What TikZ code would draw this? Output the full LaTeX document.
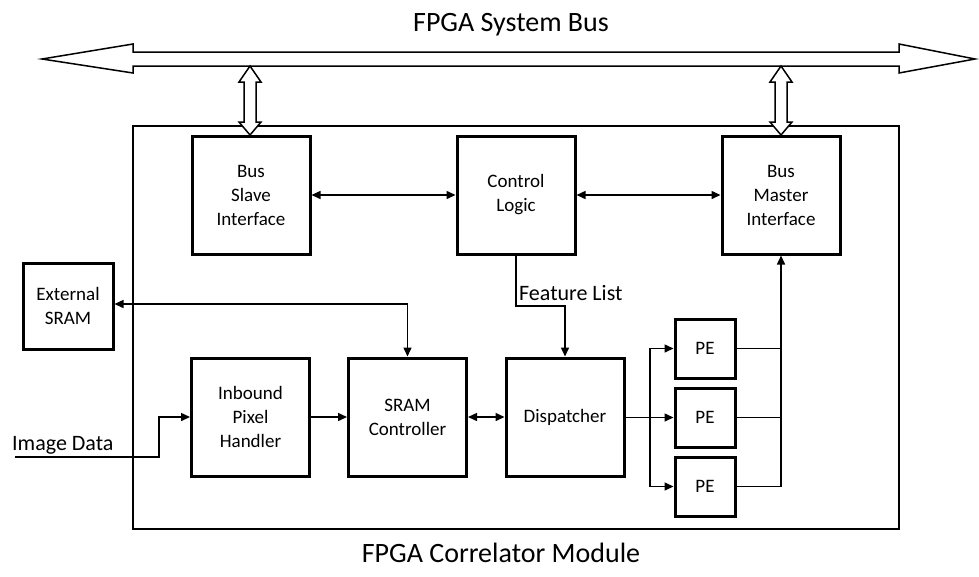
\documentclass[tikz,border=0pt]{standalone}
\usepackage{fontspec}
\setmainfont{Carlito}
\usetikzlibrary{arrows.meta}
\tikzset{
  blk/.style={draw, line width=3pt, minimum width=118pt, minimum height=118pt, align=center, inner sep=0pt, font=\fontsize{19}{24}\selectfont},
  peblk/.style={draw, line width=3pt, minimum width=60pt, minimum height=59pt, inner sep=0pt, font=\fontsize{19}{24}\selectfont},
  conn/.style={line width=1.5pt},
  tip/.style={-{Triangle[length=9pt,width=8pt]}},
  dtip/.style={{Triangle[length=9pt,width=8pt]}-{Triangle[length=9pt,width=8pt]}},
  hollow/.style={draw, line width=1.5pt, fill=white, line join=miter},
  title/.style={font=\fontsize{28}{34}\selectfont, inner sep=0pt},
  lbl/.style={font=\fontsize{22}{26}\selectfont, inner sep=0pt}
}
\begin{document}
\begin{tikzpicture}[x=1pt, y=-1pt]
\useasboundingbox (0,0) rectangle (979,576);
% titles
\node[title, anchor=base] (bustitle) at (511,31) {FPGA System Bus};
\node[title, anchor=base] (modtitle) at (501,562) {FPGA Correlator Module};
% system bus
\draw[hollow] (42,59) -- (133,44) -- (133,52) -- (899,52) -- (899,44) -- (975,59) -- (899,73) -- (899,66) -- (133,66) -- (133,73) -- cycle;
% module box
\draw[line width=1.5pt] (133,126) rectangle (899,529);
% blocks
\node[blk] (bsi) at (251,195) {Bus\\Slave\\Interface};
\node[blk] (ctl) at (516,195) {Control\\Logic};
\node[blk] (bmi) at (781,195) {Bus\\Master\\Interface};
\node[draw, line width=3pt, minimum width=90pt, minimum height=86pt, align=center, inner sep=0pt, font=\fontsize{19}{24}\selectfont] (ext) at (68,306) {External\\SRAM};
\node[blk] (iph) at (250.5,417) {Inbound\\Pixel\\Handler};
\node[blk] (sramc) at (407.5,417) {SRAM\\Controller};
\node[blk] (disp) at (565,417) {Dispatcher};
\node[peblk] (pe1) at (705,348.5) {PE};
\node[peblk] (pe2) at (705,417.5) {PE};
\node[peblk] (pe3) at (705,486.5) {PE};
% vertical bus links
\foreach \xx in {250,781}{
  \draw[hollow] (\xx,66) -- (\xx+11,82) -- (\xx+6,82) -- (\xx+6,122) -- (\xx+11,122) -- (\xx,135) -- (\xx-11,122) -- (\xx-6,122) -- (\xx-6,82) -- (\xx-11,82) -- cycle;
}
% connectors
\draw[conn, dtip] (bsi.east) -- (ctl.west);
\draw[conn, dtip] (ctl.east) -- (bmi.west);
\draw[conn, dtip] (ext.east |- 0,304) -| (sramc.north);
\coordinate (fl) at (516,306);
\draw[conn, tip] (ctl.south) -- (fl) -| (disp.north);
\node[lbl, anchor=base west] (fltext) at (519,300) {Feature List};
\draw[conn, tip] (iph.east) -- (sramc.west);
\draw[conn, dtip] (sramc.east) -- (disp.west);
\coordinate (split) at (650,417.5);
\draw[conn, tip] (disp.east |- split) -- (pe2.west);
\draw[conn, tip] (split) |- (pe1.west);
\draw[conn, tip] (split) |- (pe3.west);
\draw[conn, tip] (pe3.east) -| (bmi.south);
\coordinate (m1) at (781,348.5);
\coordinate (m2) at (781,417.5);
\draw[conn] (pe1.east) -- (m1);
\draw[conn] (pe2.east) -- (m2);
\coordinate (imgin) at (15,457);
\draw[conn, tip] (imgin) -- (159,457) |- (iph.west);
\node[lbl, anchor=base west] (imgtext) at (12,450) {Image Data};
\end{tikzpicture}
\end{document}
